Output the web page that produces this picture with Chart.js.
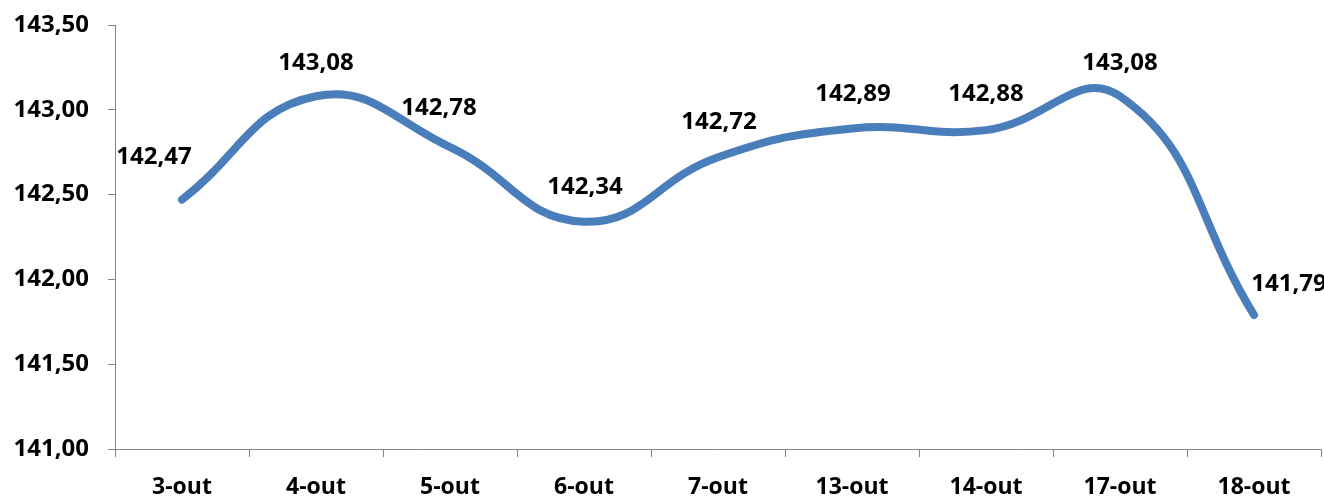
<!DOCTYPE html>
<html>
<head>
<meta charset="utf-8">
<script src="https://cdn.jsdelivr.net/npm/chart.js@4/dist/chart.umd.min.js"></script>
<style>
  html, body { margin: 0; padding: 0; background: #ffffff; }
  #wrap { width: 1324px; height: 497px; position: relative; }
</style>
</head>
<body>
<div id="wrap"><canvas id="c" width="1324" height="497"></canvas></div>
<script>
// ---- data ----
const categories = ['3-out', '4-out', '5-out', '6-out', '7-out', '13-out', '14-out', '17-out', '18-out'];
const rates = [142.47, 143.08, 142.78, 142.34, 142.72, 142.89, 142.88, 143.08, 141.79];
const yTicks = [141.0, 141.5, 142.0, 142.5, 143.0, 143.5];

// ---- style (label offsets relative to point, in px) ----
const labelDx = [-28, 0, -11, 1, 1, 1, 0, 0, 35];
const labelDy = [-44, -35, -41, -36, -37, -36, -38, -35, -33];

const FONT = '"Open Sans", "DejaVu Sans", sans-serif';
const AXIS = '#868686';
const fmt = v => v.toFixed(2).replace('.', ',');

const labelPlugin = {
  id: 'valueLabels',
  afterDatasetsDraw(chart) {
    const ctx = chart.ctx;
    const meta = chart.getDatasetMeta(0);
    ctx.save();
    ctx.font = 'bold 24px ' + FONT;
    ctx.fillStyle = '#000000';
    ctx.textAlign = 'center';
    ctx.textBaseline = 'alphabetic';
    meta.data.forEach((pt, i) => {
      const v = chart.data.datasets[0].data[i];
      ctx.fillText(fmt(v), pt.x + labelDx[i], pt.y + labelDy[i] + 8.5);
    });
    ctx.restore();
  }
};

new Chart(document.getElementById('c'), {
  type: 'line',
  data: {
    labels: categories,
    datasets: [{
      data: rates,
      borderColor: '#4A7EBB',
      borderWidth: 8,
      borderCapStyle: 'round',
      borderJoinStyle: 'round',
      tension: 0.45,
      pointRadius: 0,
      fill: false
    }]
  },
  options: {
    responsive: false,
    animation: false,
    layout: { padding: { top: 25, right: 3, left: 0, bottom: 0 } },
    plugins: { legend: { display: false }, tooltip: { enabled: false } },
    scales: {
      x: {
        offset: true,
        grid: { offset: true, drawOnChartArea: false, drawTicks: true, tickLength: 8, color: AXIS },
        border: { color: AXIS, width: 1 },
        ticks: { color: '#000', font: { family: FONT, size: 23, weight: 'bold' }, padding: 17, maxRotation: 0, autoSkip: false },
        afterFit: s => { s.height = 48; s.paddingLeft = 0; s.paddingRight = 0; }
      },
      y: {
        min: yTicks[0],
        max: yTicks[yTicks.length - 1],
        afterBuildTicks: s => { s.ticks = yTicks.map(v => ({ value: v })); },
        grid: { drawOnChartArea: false, drawTicks: true, tickLength: 7, color: AXIS },
        border: { color: AXIS, width: 1 },
        ticks: { color: '#000', font: { family: FONT, size: 24, weight: 'bold' }, padding: 19, callback: v => fmt(v) },
        afterFit: s => { s.width = 115; s.paddingTop = 0; s.paddingBottom = 0; }
      }
    }
  },
  plugins: [labelPlugin]
});
</script>
</body>
</html>
